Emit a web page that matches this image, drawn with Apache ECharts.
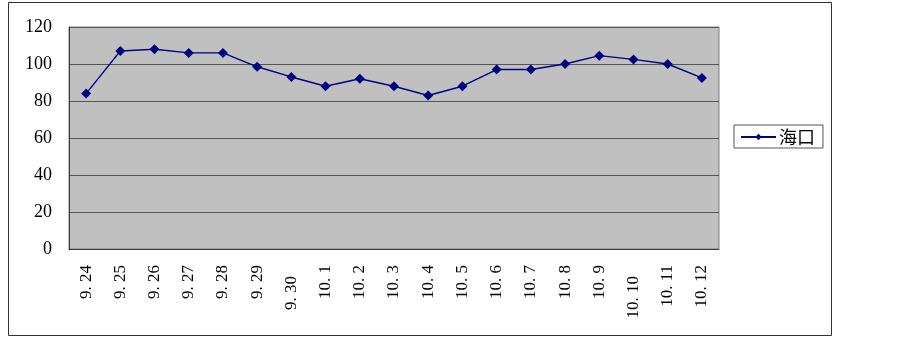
<!DOCTYPE html>
<html>
<head>
<meta charset="utf-8">
<script src="https://cdn.jsdelivr.net/npm/echarts@6/dist/echarts.min.js"></script>
<style>
  html, body { margin: 0; padding: 0; background: #fff; }
  #main { width: 903px; height: 338px; }
</style>
</head>
<body>
<div id="main"></div>
<script>
const days = ['9. 24', '9. 25', '9. 26', '9. 27', '9. 28', '9. 29', '9. 30', '10. 1', '10. 2', '10. 3',
  '10. 4', '10. 5', '10. 6', '10. 7', '10. 8', '10. 9', '10. 10', '10. 11', '10. 12']
const haikou = [84, 107, 108, 106, 106, 98.5, 93, 88, 92, 88, 83, 88, 97, 97, 100, 104.5, 102.5, 100, 92.5]
// labels that sit lower in the picture
const lowered = ['9. 30', '10. 10']

const chart = echarts.init(document.getElementById('main'))
const option = {
  animation: false,
  graphic: [{
    type: 'rect',
    shape: { x: 8.5, y: 2.5, width: 823, height: 333 },
    style: { fill: 'none', stroke: '#333', lineWidth: 1 }
  }],
  grid: {
    left: 69, top: 27, right: 184, bottom: 89,
    show: true, backgroundColor: '#c0c0c0', borderColor: '#808080', borderWidth: 1
  },
  legend: {
    left: 734, top: 125,
    orient: 'vertical',
    borderColor: '#555', borderWidth: 1,
    padding: [3, 8, 2, 6],
    itemWidth: 35, itemHeight: 8,
    itemGap: 0,
    textStyle: { fontFamily: 'Noto Sans CJK SC', fontSize: 18, color: '#000', padding: [0, 0, 0, -2] },
    data: ['海口']
  },
  xAxis: {
    type: 'category',
    data: days.map(d => lowered.includes(d) ? { value: d, textStyle: { padding: [0, 11, 0, 0] } } : d),
    boundaryGap: true,
    axisLine: { lineStyle: { color: '#3a3a3a', width: 1 } },
    axisTick: { inside: true, length: 5, lineStyle: { color: '#808080' } },
    axisLabel: {
      rotate: 90, margin: 16, interval: 0,
      fontFamily: 'Liberation Serif', fontSize: 17, color: '#000'
    }
  },
  yAxis: {
    type: 'value',
    min: 0, max: 120, interval: 20,
    axisLine: { show: true, lineStyle: { color: '#3a3a3a' } },
    axisTick: { show: false },
    splitLine: { lineStyle: { color: '#555', width: 1 } },
    axisLabel: { margin: 17, fontFamily: 'Liberation Serif', fontSize: 18, color: '#000' }
  },
  series: [{
    name: '海口',
    type: 'line',
    data: haikou,
    symbol: 'diamond',
    symbolSize: 10,
    lineStyle: { color: '#000080', width: 1.4 },
    itemStyle: { color: '#000080' }
  }]
}
chart.setOption(option)
</script>
</body>
</html>
